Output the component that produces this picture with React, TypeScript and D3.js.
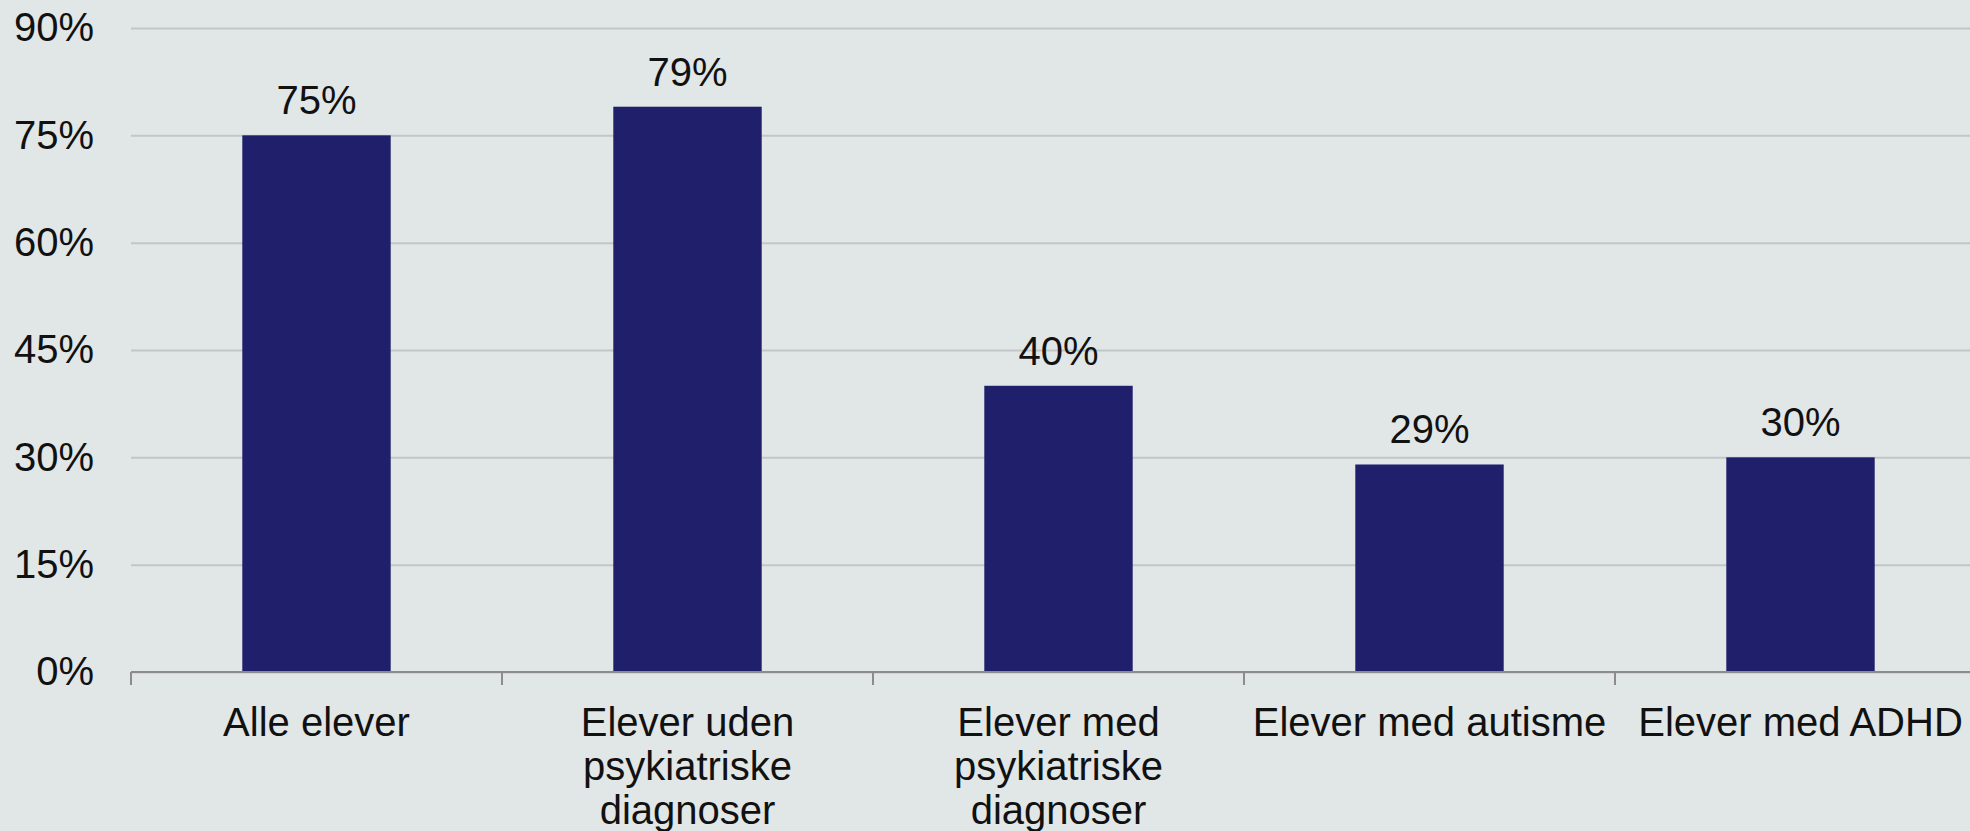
import React, {useEffect, useRef} from 'react';
import {scaleBand, scaleLinear, axisLeft, select} from 'd3';

// data
const categories = [
	'Alle elever',
	'Elever uden\npsykiatriske\ndiagnoser',
	'Elever med\npsykiatriske\ndiagnoser',
	'Elever med autisme',
	'Elever med ADHD'
];
const values = [75, 79, 40, 29, 30];
const yTicks = [0, 15, 30, 45, 60, 75, 90];

const W = 1970;
const H = 831;
const margin = {t: 28, l: 131, b: 159};

const font = '"Liberation Sans", Arial, sans-serif';
const fontSize = 40;
const barColor = '#1f1f6b';
const bg = '#e1e6e6';

// band step ~371px, bar ~148px; the last category runs past the right edge
const scaleX = scaleBand<string>()
	.domain(categories)
	.range([margin.l, margin.l + 5 * 371])
	.paddingInner(0.6)
	.paddingOuter(0.3);

const scaleY = scaleLinear()
	.domain([0, 90])
	.range([H - margin.b, margin.t]);

const axisY = axisLeft(scaleY)
	.tickValues(yTicks)
	.tickFormat(d => d + '%')
	.tickSize(-(W - margin.l))
	.tickPadding(37);

export default function App(){

	const axisRef = useRef<SVGGElement>(null);

	useEffect(() => {
		const g = select(axisRef.current);
		g.call(axisY);
		g.select('.domain').remove();
		g.selectAll('line')
			.attr('stroke', '#c2c6c7')
			.attr('stroke-width', 2);
		g.selectAll('text')
			.attr('fill', '#111')
			.style('font-family', font)
			.style('font-size', fontSize + 'px');
	}, []);

	const y0 = scaleY(0);
	const step = scaleX.step();
	const bounds = categories.map((c, i) => margin.l + i * step);

	return (
		<div style={{position: 'fixed', left: 0, top: 0, width: W, height: H, background: bg}}>
			<svg width={W} height={H} style={{display: 'block'}}>
				<rect width={W} height={H} fill={bg}/>
				<g className='axis-y' transform={`translate(${margin.l},0)`} ref={axisRef}/>

				{categories.map((c, i) =>
					<rect
						key={c}
						x={scaleX(c)}
						y={scaleY(values[i])}
						width={scaleX.bandwidth()}
						height={y0 - scaleY(values[i])}
						fill={barColor}
					/>
				)}

				{/* baseline with ticks between categories */}
				<line x1={margin.l} x2={W} y1={y0} y2={y0} stroke='#8c8c8c' strokeWidth={2}/>
				{bounds.map(x =>
					<line key={x} x1={x} x2={x} y1={y0} y2={y0 + 13} stroke='#8c8c8c' strokeWidth={2}/>
				)}

				{categories.map((c, i) =>
					<text
						key={'v' + c}
						x={(scaleX(c) as number) + scaleX.bandwidth() / 2}
						y={scaleY(values[i]) - 21}
						textAnchor='middle'
						fontFamily={font}
						fontSize={fontSize}
						fill='#111'
					>
						{values[i]}%
					</text>
				)}

				{categories.map(c =>
					<text
						key={'l' + c}
						x={(scaleX(c) as number) + scaleX.bandwidth() / 2}
						y={y0 + 64}
						textAnchor='middle'
						fontFamily={font}
						fontSize={fontSize}
						fill='#111'
					>
						{c.split('\n').map((line, j) =>
							<tspan key={j} x={(scaleX(c) as number) + scaleX.bandwidth() / 2} dy={j === 0 ? 0 : 44}>{line}</tspan>
						)}
					</text>
				)}
			</svg>
		</div>
	);
}
